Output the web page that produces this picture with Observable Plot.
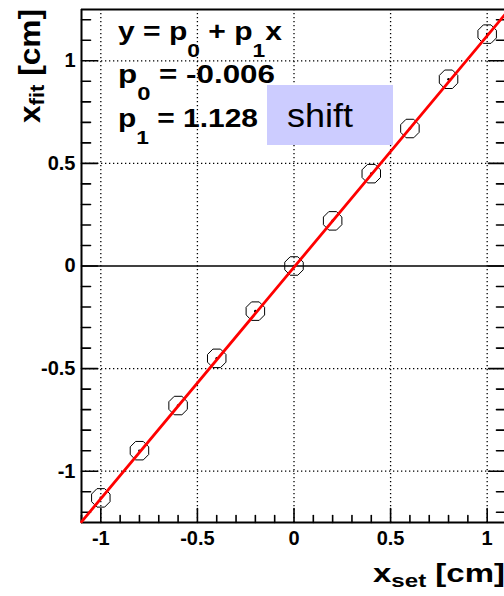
<!DOCTYPE html>
<html><head><meta charset="utf-8">
<script src="https://cdn.jsdelivr.net/npm/d3@7"></script>
<script src="https://cdn.jsdelivr.net/npm/@observablehq/plot@0.6"></script>
<style>
html,body{margin:0;padding:0;background:#fff;}
#chart{position:relative;width:504px;height:596px;overflow:hidden;}
#chart svg{display:block;}
</style>
</head><body><div id="chart"></div>
<script>
// ---- data ----
const xSet = [-1, -0.8, -0.6, -0.4, -0.2, 0, 0.2, 0.4, 0.6, 0.8, 1];
const xFit = [-1.13, -0.90, -0.68, -0.45, -0.22, 0.00, 0.22, 0.45, 0.67, 0.91, 1.13];
const p0 = -0.006;
const p1 = 1.128;
const fitXRange = [-1.1, 1.1];
const xDomain = [-1.1, 1.1];
const yDomain = [-1.25, 1.25];
const xMajor = [-1, -0.5, 0, 0.5, 1];
const xTickLabels = ["-1", "-0.5", "0", "0.5", "1"];
const yMajor = [-1, -0.5, 0, 0.5, 1];
const yTickLabels = ["-1", "-0.5", "0", "0.5", "1"];
const xMinor = [-1.1,-0.9,-0.8,-0.7,-0.6,-0.4,-0.3,-0.2,-0.1,0.1,0.2,0.3,0.4,0.6,0.7,0.8,0.9];
const yMinor = [-1.2,-1.1,-0.9,-0.8,-0.7,-0.6,-0.4,-0.3,-0.2,-0.1,0.1,0.2,0.3,0.4,0.6,0.7,0.8,0.9,1.1,1.2];
const statLines = [
  [["y = p", false], ["0", true], [" + p", false], ["1", true], ["x", false]],
  [["p", false], ["0", true], [" = " + p0.toFixed(3), false]],
  [["p", false], ["1", true], [" = " + p1.toFixed(3), false]]
];
const boxLabel = "shift";
const xTitle = [["x", false], ["set", true], [" [cm]", false]];
const yTitle = [["x", false], ["fit", true], [" [cm]", false]];

// ---- derived tables ----
const points = xSet.map((x, i) => ({x, y: xFit[i]}));
const fitLine = fitXRange.map(x => ({x, y: p0 + p1 * x}));

const FONT = "'Liberation Sans', Arial, Helvetica, sans-serif";
const octagon = {
  draw(ctx, size) {
    const r = Math.sqrt(size / Math.PI);
    for (let i = 0; i < 8; i++) {
      const a = Math.PI / 8 + i * Math.PI / 4;
      const px = r * Math.cos(a), py = r * Math.sin(a);
      if (i === 0) ctx.moveTo(px, py); else ctx.lineTo(px, py);
    }
    ctx.closePath();
  }
};
const tickShape = {draw(ctx, l) { ctx.moveTo(0, 0); ctx.lineTo(0, -l); }};
const dotted = {stroke: "black", strokeOpacity: 1, strokeWidth: 1.3, strokeDasharray: "1.3,2.7"};

const plot = Plot.plot({
  width: 504,
  height: 596,
  marginLeft: 81,
  marginRight: 0,
  marginTop: 9,
  marginBottom: 74,
  x: {domain: xDomain, range: [81, 506]},
  y: {domain: yDomain},
  style: {fontFamily: FONT, background: "white", color: "black"},
  marks: [
    Plot.gridX(xMajor, dotted),
    Plot.gridY(yMajor.filter(d => d !== 0), dotted),
    Plot.ruleY([0], {stroke: "black", strokeWidth: 1.6}),
    // frame (left, bottom, top)
    Plot.ruleX([xDomain[0]], {stroke: "black", strokeWidth: 2}),
    Plot.ruleY(yDomain, {stroke: "black", strokeWidth: 2}),
    // ticks
    Plot.vector(xMajor, {x: d => d, frameAnchor: "bottom", anchor: "start", rotate: 0, length: 14, shape: tickShape, stroke: "black", strokeWidth: 1.6}),
    Plot.vector(xMinor, {x: d => d, frameAnchor: "bottom", anchor: "start", rotate: 0, length: 7, shape: tickShape, stroke: "black", strokeWidth: 1.6}),
    Plot.vector(yMajor, {y: d => d, frameAnchor: "left", anchor: "start", rotate: 90, length: 16, shape: tickShape, stroke: "black", strokeWidth: 1.6}),
    Plot.vector(yMinor, {y: d => d, frameAnchor: "left", anchor: "start", rotate: 90, length: 9, shape: tickShape, stroke: "black", strokeWidth: 1.6}),
    Plot.vector(yMajor, {y: d => d, frameAnchor: "right", anchor: "start", rotate: -90, length: 16, shape: tickShape, stroke: "black", strokeWidth: 1.6}),
    Plot.vector(yMinor, {y: d => d, frameAnchor: "right", anchor: "start", rotate: -90, length: 8, shape: tickShape, stroke: "black", strokeWidth: 1.6}),
    // tick labels
    Plot.axisX(xMajor, {anchor: "bottom", tickSize: 0, tickPadding: 8, tickFormat: (d, i) => xTickLabels[i], fontSize: 20, fontWeight: "bold", label: null}),
    Plot.axisY(yMajor, {anchor: "left", tickSize: 0, tickPadding: 6, tickFormat: (d, i) => yTickLabels[i], fontSize: 20, fontWeight: "bold", label: null}),
    // data
    Plot.dot(points, {x: "x", y: "y", symbol: octagon, r: 10, stroke: "black", strokeWidth: 1, fill: "none"}),
    Plot.dot(points, {x: "x", y: "y", r: 1.3, fill: "black", stroke: "none"}),
    Plot.line(fitLine, {x: "x", y: "y", stroke: "#ff0000", strokeWidth: 2.8})
  ]
});
document.getElementById("chart").appendChild(plot);

// ---- annotations (stat box text, pave label, axis titles) ----
const svg = d3.select(plot);
function richText(g, parts, opts) {
  const t = g.append("text")
    .attr("x", opts.x).attr("y", opts.y)
    .attr("text-anchor", "start")
    .attr("font-family", FONT)
    .attr("font-size", opts.size)
    .attr("font-weight", opts.weight || "bold")
    .attr("fill", "black");
  if (opts.transform) t.attr("transform", opts.transform);
  let sub = false;
  parts.forEach(([s, isSub]) => {
    const ts = t.append("tspan").text(s).style("white-space", "pre");
    if (isSub && !sub) ts.attr("dy", opts.subDy).attr("font-size", opts.subSize);
    else if (isSub) ts.attr("font-size", opts.subSize);
    else if (!isSub && sub) ts.attr("dy", -opts.subDy);
    sub = isSub;
  });
  if (opts.length) t.attr("textLength", opts.length).attr("lengthAdjust", "spacingAndGlyphs");
  return t;
}
const ann = svg.append("g").attr("text-anchor", "start");
const statPos = [[118, 40, 164], [118, 83, 157], [118, 127, 140]];
statLines.forEach((parts, i) => {
  richText(ann, parts, {x: statPos[i][0], y: statPos[i][1], size: 25, subSize: 19, subDy: 17, length: statPos[i][2]});
});
ann.append("rect").attr("x", 267).attr("y", 85).attr("width", 126).attr("height", 60).attr("fill", "#ccccff");
ann.append("text").attr("x", 287).attr("y", 127).attr("text-anchor", "start").attr("font-family", FONT).attr("font-size", 33)
  .attr("fill", "black").attr("textLength", 66).attr("lengthAdjust", "spacingAndGlyphs").text(boxLabel);
richText(ann, xTitle, {x: 373, y: 582, size: 26, subSize: 19, subDy: 5, length: 132});
richText(ann, yTitle, {x: 0, y: 0, transform: "translate(40,123) rotate(-90)", size: 30, subSize: 21, subDy: 4, length: 114});
</script>
</body></html>
